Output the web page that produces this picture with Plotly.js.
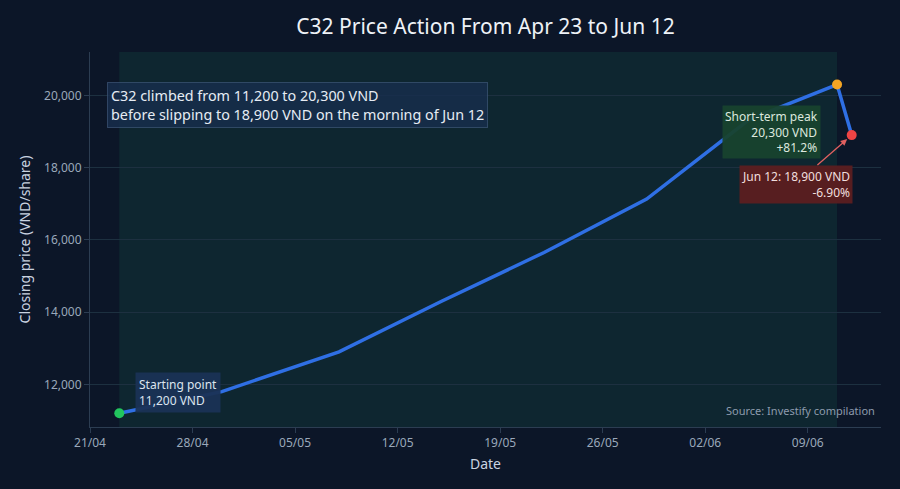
<!DOCTYPE html>
<html>
<head>
<meta charset="utf-8">
<script src="https://cdn.plot.ly/plotly-3.0.1.min.js"></script>
<style>
  html, body { margin: 0; padding: 0; background: #0c1628; }
  #myDiv { width: 900px; height: 489px; }
</style>
</head>
<body>
<div id="myDiv"></div>
<script>
// closing prices
var dates = ['2025-04-23', '2025-04-30', '2025-05-08', '2025-05-15', '2025-05-22',
             '2025-05-29', '2025-06-05', '2025-06-11', '2025-06-12'];
var prices = [11200, 11800, 12900, 14300, 15650, 17130, 19330, 20300, 18900];

var startDate = dates[0], startPrice = prices[0];
var peakDate = dates[7], peakPrice = prices[7];
var lastDate = dates[8], lastPrice = prices[8];

var xTicks = ['2025-04-21', '2025-04-28', '2025-05-05', '2025-05-12', '2025-05-19',
              '2025-05-26', '2025-06-02', '2025-06-09'];
var yTicks = [12000, 14000, 16000, 18000, 20000];

var fmt = function(v){ return v.toLocaleString('en-US'); };
// the source truncates the percentages
var gain = (Math.floor((peakPrice / startPrice - 1) * 1000) / 10).toFixed(1);
var drop = ((lastPrice / peakPrice - 1) * 100).toFixed(2);

var priceLine = {
    x: dates, y: prices, type: 'scatter', mode: 'lines',
    line: {color: '#2f6fe4', width: 3.5},
    hoverinfo: 'skip', showlegend: false
};
var keyPoints = {
    x: [startDate, peakDate, lastDate],
    y: [startPrice, peakPrice, lastPrice],
    type: 'scatter', mode: 'markers',
    marker: {size: 10, color: ['#22c55e', '#f5a524', '#ef4444']},
    hoverinfo: 'skip', showlegend: false
};

var layout = {
    width: 900, height: 489,
    paper_bgcolor: '#0c1628', plot_bgcolor: '#0c1628',
    font: {family: 'Noto Sans, sans-serif', color: '#c9d3e0', size: 12},
    margin: {l: 90, r: 19, t: 52, b: 62},
    title: {text: 'C32 Price Action From Apr 23 to Jun 12', x: 0.5, xref: 'paper',
            y: 0.945, yanchor: 'middle',
            font: {size: 21, color: '#eef2f7'}},
    xaxis: {
        type: 'date', range: ['2025-04-21', '2025-06-14'],
        tickvals: xTicks, tickformat: '%d/%m',
        showgrid: false, zeroline: false,
        showline: true, linecolor: '#2c3d52', linewidth: 1,
        ticks: 'outside', tickcolor: '#2c3d52', ticklen: 5,
        tickfont: {size: 12, color: '#9aa8ba'},
        title: {text: 'Date', font: {size: 14, color: '#c9d3e0'}, standoff: 8}
    },
    yaxis: {
        range: [10820, 21200],
        tickvals: yTicks, tickformat: ',d',
        gridcolor: '#1d3040', gridwidth: 1, zeroline: false,
        showline: true, linecolor: '#2c3d52', linewidth: 1,
        ticks: 'outside', tickcolor: '#2c3d52', ticklen: 5,
        tickfont: {size: 12, color: '#9aa8ba'},
        title: {text: 'Closing price (VND/share)', font: {size: 14, color: '#c9d3e0'}, standoff: 10}
    },
    shapes: [{
        type: 'rect', xref: 'x', yref: 'paper',
        x0: startDate, x1: peakDate, y0: 0, y1: 1,
        fillcolor: 'rgba(34,160,110,0.12)', line: {width: 0}, layer: 'below'
    }],
    annotations: [
        {
            xref: 'paper', yref: 'paper', x: 0.0215, y: 0.92,
            xanchor: 'left', yanchor: 'top', align: 'left', showarrow: false,
            text: 'C32 climbed from ' + fmt(startPrice) + ' to ' + fmt(peakPrice) + ' VND<br>before slipping to ' +
                  fmt(lastPrice) + ' VND on the morning of Jun 12',
            font: {size: 14.35, color: '#e6ecf4'},
            bgcolor: 'rgba(24,46,78,0.8)', bordercolor: 'rgba(70,95,130,0.6)', borderwidth: 1, borderpad: 3
        },
        {
            xref: 'x', yref: 'y', x: startDate, y: startPrice,
            xanchor: 'left', yanchor: 'bottom', align: 'left', showarrow: false,
            xshift: 16, yshift: 0,
            text: 'Starting point<br>' + fmt(startPrice) + ' VND',
            font: {size: 12, color: '#dce4ee'},
            bgcolor: 'rgba(26,50,85,0.95)', borderpad: 3
        },
        {
            xref: 'x', yref: 'y', x: peakDate, y: peakPrice,
            xanchor: 'right', yanchor: 'top', align: 'right', showarrow: false,
            xshift: -16, yshift: -20,
            text: 'Short-term peak<br>' + fmt(peakPrice) + ' VND<br>+' + gain + '%',
            font: {size: 12, color: '#dce8de'},
            bgcolor: 'rgba(24,66,46,0.95)', borderpad: 2
        },
        {
            xref: 'x', yref: 'y', x: lastDate, y: lastPrice,
            showarrow: true, arrowhead: 2, arrowsize: 1, arrowwidth: 1.3,
            arrowcolor: '#e06060', standoff: 6, ax: -56, ay: 49,
            align: 'right',
            text: 'Jun 12: ' + fmt(lastPrice) + ' VND<br>' + drop + '%',
            font: {size: 12, color: '#f0dede'},
            bgcolor: 'rgba(92,30,32,0.95)', borderpad: 2
        },
        {
            xref: 'paper', yref: 'paper', x: 0.995, y: 0.045,
            xanchor: 'right', yanchor: 'middle', showarrow: false,
            text: 'Source: Investify compilation',
            font: {size: 11, color: '#8d9bad'}
        }
    ]
};

Plotly.newPlot('myDiv', [priceLine, keyPoints], layout, {displayModeBar: false, staticPlot: true});
</script>
</body>
</html>
